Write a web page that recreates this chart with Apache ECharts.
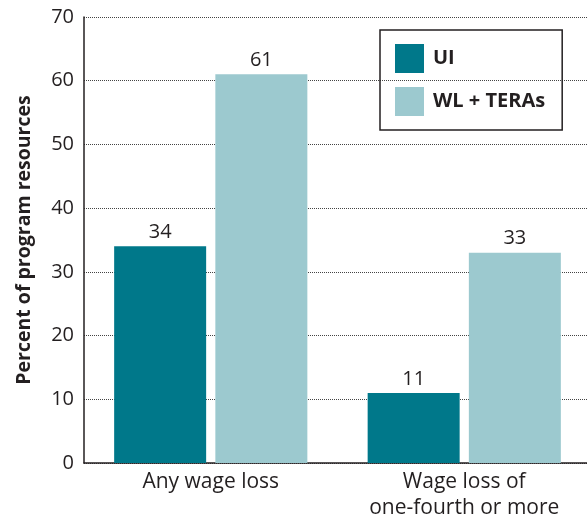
<!DOCTYPE html>
<html>
<head>
<meta charset="utf-8">
<script src="https://cdn.jsdelivr.net/npm/echarts@6/dist/echarts.min.js"></script>
<style>
  html, body { margin: 0; padding: 0; background: #fff; }
  #mychart { width: 587px; height: 516px; }
</style>
</head>
<body>
<div id="mychart"></div>
<script>
// 数据
const categories = ['Any wage loss', 'Wage loss of\none-fourth or more']
const uiValues = [34, 11]
const wlTerasValues = [61, 33]
const seriesNames = ['UI', 'WL + TERAs']
const yTicks = [0, 10, 20, 30, 40, 50, 60, 70]

const textColor = '#231f20'
const fontFamily = '"Open Sans", "Noto Sans", sans-serif'

const mychart = echarts.init(document.getElementById('mychart'))

const valueLabel = {
  show: true,
  position: 'top',
  distance: 4,
  color: textColor,
  fontSize: 20,
  fontFamily: fontFamily
}

mychart.setOption({
  animation: false,
  grid: {
    left: 84,
    right: -4,
    top: 17,
    bottom: 53,
    containLabel: false,
    outerBoundsMode: 'none'
  },
  legend: {
    data: seriesNames,
    orient: 'vertical',
    left: 380,
    top: 30,
    itemWidth: 29,
    itemHeight: 29,
    itemGap: 14,
    padding: [14, 17, 14, 15],
    borderColor: textColor,
    borderWidth: 1.5,
    borderRadius: 0,
    icon: 'rect',
    textStyle: {
      color: textColor,
      fontSize: 20,
      fontWeight: 'bold',
      fontFamily: fontFamily,
      padding: [0, 0, 0, 4]
    }
  },
  xAxis: {
    type: 'category',
    data: categories,
    axisLine: { lineStyle: { color: textColor, width: 1.5 } },
    axisTick: { show: false },
    axisLabel: {
      color: textColor,
      fontSize: 21,
      fontFamily: fontFamily,
      margin: 6,
      lineHeight: 26
    }
  },
  yAxis: {
    type: 'value',
    min: yTicks[0],
    max: yTicks[yTicks.length - 1],
    interval: 10,
    name: 'Percent of program resources',
    nameLocation: 'middle',
    nameGap: 50,
    nameTextStyle: {
      color: textColor,
      fontSize: 19.5,
      fontWeight: 'bold',
      fontFamily: fontFamily
    },
    axisLine: { show: true, lineStyle: { color: textColor, width: 1.5 } },
    axisTick: { show: false },
    axisLabel: {
      color: textColor,
      fontSize: 20,
      fontFamily: fontFamily,
      margin: 10
    },
    splitLine: {
      lineStyle: { color: '#444', type: 'dotted', width: 1 }
    }
  },
  series: [
    {
      name: seriesNames[0],
      type: 'bar',
      data: uiValues,
      barWidth: 92,
      barGap: '10%',
      itemStyle: { color: '#00788a' },
      label: valueLabel
    },
    {
      name: seriesNames[1],
      type: 'bar',
      data: wlTerasValues,
      barWidth: 92,
      barGap: '10%',
      itemStyle: { color: '#9cc9cf' },
      label: valueLabel
    }
  ]
})
</script>
</body>
</html>
